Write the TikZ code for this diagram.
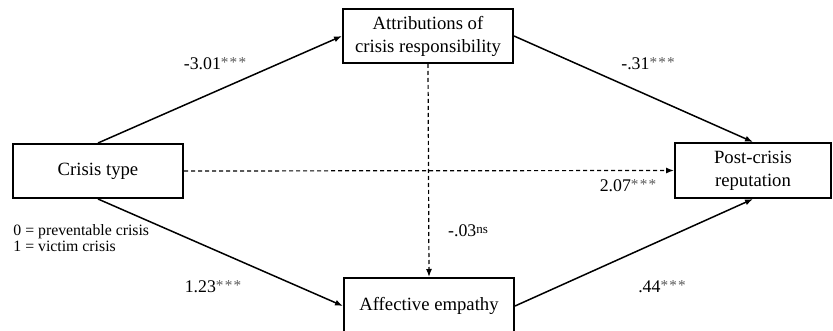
\documentclass[tikz,border=0pt]{standalone}
\usepackage{fontspec}
\setmainfont{Liberation Serif}
\usetikzlibrary{arrows.meta}
\tikzset{
  box/.style={draw, line width=1pt, inner sep=0pt, align=center,
    font=\fontsize{9.35}{11.5}\selectfont},
  conn/.style={line width=0.75pt, -{Latex[length=4pt,width=3pt]}},
  dconn/.style={line width=0.6pt, dash pattern=on 2pt off 1.5pt, -{Latex[length=4pt,width=3pt]}},
  lab/.style={inner sep=0pt, font=\fontsize{8.9}{10}\selectfont},
  note/.style={inner sep=0pt, align=left, font=\fontsize{7.9}{8}\selectfont}
}
\newcommand{\stars}{\raisebox{0.25ex}{\textcolor{black!65}{\fontsize{7.6}{8}\selectfont *\kern0.6pt*\kern0.6pt*}}}
\newcommand{\nsup}{\raisebox{0.35ex}{\fontsize{6.5}{7}\selectfont ns}}
\begin{document}
\begin{tikzpicture}[x=0.5pt,y=-0.5pt]
\useasboundingbox (0,0) rectangle (833,331);
\node[box, minimum width=85pt, minimum height=27pt] (ct) at (98,171) {Crisis type};
\node[box, minimum width=85pt, minimum height=27pt] (attr) at (428,36) {Attributions of\\crisis responsibility};
\node[box, minimum width=78pt, minimum height=27.5pt] (post) at (753,170.5) {Post-crisis\\reputation};
\node[box, minimum width=85pt, minimum height=28pt] (aff) at (429,306) {Affective empathy};

\draw[conn] (ct.north) -- (attr.west);
\draw[conn] (attr.east) -- (post.north);
\draw[conn] (ct.south) -- (aff.west);
\draw[conn] (aff.east) -- (post.south);
\draw[dconn] (ct.east) -- (post.west);
\draw[dconn] (attr.south) -- (aff.north);

\node[lab] (l1) at (215,64) {-3.01\stars};
\node[lab] (l2) at (648,64) {-.31\stars};
\node[lab] (l3) at (628,186) {2.07\stars};
\node[lab] (l4) at (468,231) {-.03\nsup};
\node[lab] (l5) at (213,287) {1.23\stars};
\node[lab] (l6) at (662,287) {.44\stars};
\node[note, anchor=north west] (n1) at (13,224) {0 = preventable crisis\\1 = victim crisis};
\end{tikzpicture}
\end{document}
